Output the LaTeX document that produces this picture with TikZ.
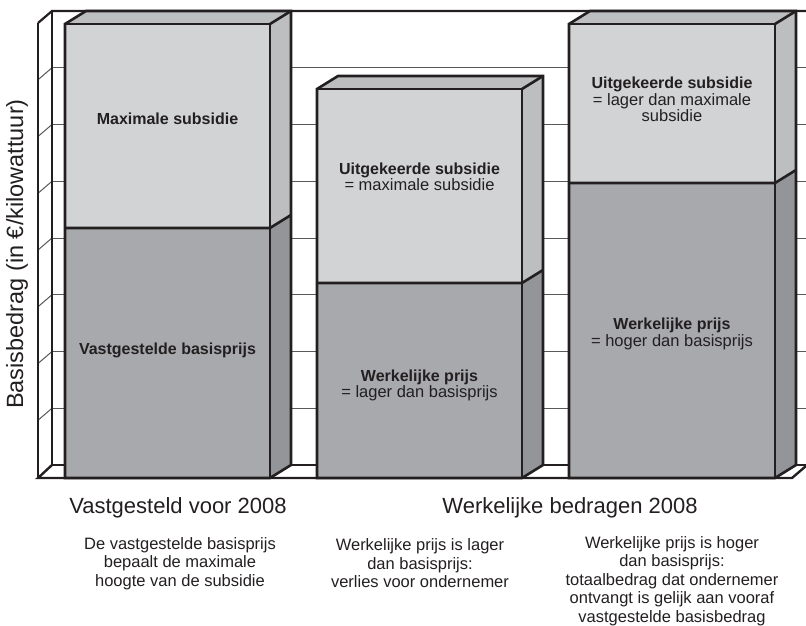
\documentclass[tikz,border=0pt]{standalone}
\usepackage{fontspec}
\setmainfont{Liberation Sans}
\definecolor{ink}{HTML}{231F20}
\definecolor{frontlight}{HTML}{D1D3D4}
\definecolor{frontdark}{HTML}{A7A9AC}
\definecolor{topface}{HTML}{BCBEC0}
\definecolor{sidelight}{HTML}{BCBEC0}
\definecolor{sidedark}{HTML}{939598}
\definecolor{gridc}{HTML}{58595B}
\newcommand{\drawbarx}[4]{% xl, xr, top, divider
  \fill[frontlight] (#1,#3) rectangle (#2,#4);
  \fill[frontdark] (#1,#4) rectangle (#2,478);
  \fill[topface] (#1,#3) -- ($(#1,#3)+(21,-13)$) -- ($(#2,#3)+(21,-13)$) -- (#2,#3) -- cycle;
  \fill[sidelight] (#2,#3) -- ($(#2,#3)+(21,-13)$) -- ($(#2,#4)+(21,-13)$) -- (#2,#4) -- cycle;
  \fill[sidedark] (#2,#4) -- ($(#2,#4)+(21,-13)$) -- ($(#2,478)+(21,-13)$) -- (#2,478) -- cycle;
  \draw[barline] (#1,478) -- (#1,#3) -- ($(#1,#3)+(21,-13)$) -- ($(#2,#3)+(21,-13)$) -- ($(#2,478)+(21,-13)$) -- (#2,478) -- cycle;
  \draw[barline] (#1,#3) -- (#2,#3) -- (#2,478);
  \draw[barline] (#1,#4) -- (#2,#4) -- ($(#2,#4)+(21,-13)$);
  \draw[barline] (#2,#3) -- ($(#2,#3)+(21,-13)$);
}
\usetikzlibrary{calc}
\begin{document}
\begin{tikzpicture}[x=1pt,y=-1pt,
  barline/.style={draw=ink,line width=2.6pt},
  frameline/.style={draw=ink,line width=2.2pt},
  thinline/.style={draw=gridc,line width=1pt},
  lbl/.style={text=ink,align=center,inner sep=0pt},
  inbold/.style={font=\fontsize{16}{18.5}\selectfont\bfseries},
]
\useasboundingbox (0,0) rectangle (806,626);
% back wall grid
\foreach \k in {1,...,7}{
  \pgfmathsetmacro{\yy}{11+56.75*\k}
  \draw[thinline] (52,\yy) -- (806,\yy);
  \draw[thinline] (38,\yy+12) -- (52,\yy);
}
% frame
\draw[frameline] (38,23) -- (52,11) -- (806,11);
\draw[frameline,line width=1.6pt] (38,23) -- (38,478);
\draw[frameline,line width=2.6pt] (52,11) -- (52,465) -- (806,465);
\draw[frameline,line width=2.4pt] (52,465) -- (38,478) -- (792,478) -- (806,466);
% bars
\drawbarx{65}{270}{24}{228}
\drawbarx{317}{522}{89}{283}
\drawbarx{569}{775}{24}{183}
% bar texts
\node[lbl,inbold] (t1a) at (167.5,119) {Maximale subsidie};
\node[lbl,inbold] (t1b) at (167.5,350) {Vastgestelde basisprijs};
\node[lbl] (t2a) at (419.5,177) {{\fontsize{16}{18.5}\selectfont\bfseries Uitgekeerde subsidie}\\{\fontsize{16.5}{18.5}\selectfont = maximale subsidie}};
\node[lbl] (t2b) at (419.5,385.5) {{\fontsize{16}{18.5}\selectfont\bfseries Werkelijke prijs}\\{\fontsize{16.5}{18.5}\selectfont = lager dan basisprijs}};
\node[lbl] (t3a) at (672,99.5) {{\fontsize{16}{18.5}\selectfont\bfseries Uitgekeerde subsidie}\\{\fontsize{16.5}{18.5}\selectfont = lager dan maximale}\\{\fontsize{16.5}{18.5}\selectfont subsidie}};
\node[lbl] (t3b) at (672,334) {{\fontsize{16}{18.5}\selectfont\bfseries Werkelijke prijs}\\{\fontsize{16.5}{18.5}\selectfont = hoger dan basisprijs}};
% axis label
\node[lbl,rotate=90,font=\fontsize{23.5}{26}\selectfont] (ylab) at (17,254) {Basisbedrag (in €/kilowattuur)};
% bottom headings
\node[lbl,font=\fontsize{22}{26}\selectfont] (h1) at (178,508) {Vastgesteld voor 2008};
\node[lbl,font=\fontsize{22}{26}\selectfont] (h2) at (570,508) {Werkelijke bedragen 2008};
% bottom notes
\node[lbl,font=\fontsize{16.5}{18.5}\selectfont] (n1) at (180,563.5) {De vastgestelde basisprijs\\bepaalt de maximale\\hoogte van de subsidie};
\node[lbl,font=\fontsize{16.5}{18.5}\selectfont] (n2) at (420,563.5) {Werkelijke prijs is lager\\dan basisprijs:\\verlies voor ondernemer};
\node[lbl,font=\fontsize{16.5}{18.5}\selectfont] (n3) at (672,581) {Werkelijke prijs is hoger\\dan basisprijs:\\totaalbedrag dat ondernemer\\ontvangt is gelijk aan vooraf\\vastgestelde basisbedrag};
\end{tikzpicture}
\end{document}
